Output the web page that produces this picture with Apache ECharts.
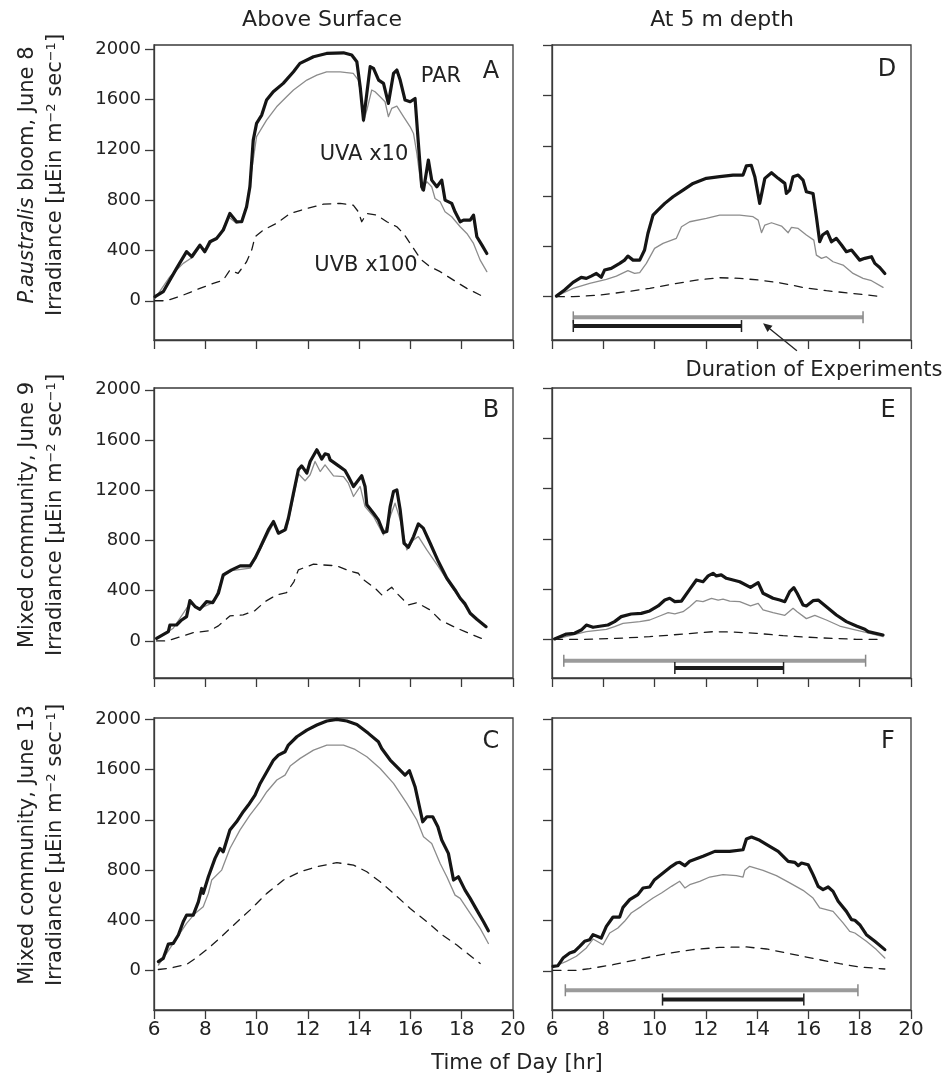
<!DOCTYPE html>
<html><head><meta charset="utf-8">
<script src="https://cdn.jsdelivr.net/npm/echarts@6/dist/echarts.min.js"></script>
<style>html,body{margin:0;padding:0;background:#fff}#c{width:951px;height:1079px}</style>
</head><body><div id="c"></div>
<script>
// ---------------- DATA ----------------
const hourTicks = [6, 8, 10, 12, 14, 16, 18, 20];
const irrTicks = [0, 400, 800, 1200, 1600, 2000];
const columnTitles = ['Above Surface', 'At 5 m depth'];
const rowTitles = ['{it|P.australis} bloom, June 8', 'Mixed community, June 9', 'Mixed community, June 13'];
const yTitle = 'Irradiance [µEin m{sup|−2} sec{sup|−1}]';
const xTitle = 'Time of Day [hr]';
const panelLetters = ['A', 'D', 'B', 'E', 'C', 'F'];
const seriesNames = ['PAR', 'UVA x10', 'UVB x100'];
const durationLabel = 'Duration of Experiments';

// Panel A: above surface, June 8
const parA = [[6.04,32],[6.36,72],[6.88,257],[7.27,390],[7.47,350],[7.79,442],[7.98,390],[8.18,469],[8.44,495],[8.70,562],[8.96,694],[9.22,628],[9.42,628],[9.61,747],[9.74,906],[9.87,1277],[10.0,1410],[10.2,1476],[10.39,1595],[10.65,1661],[11.04,1728],[11.44,1820],[11.69,1887],[12.22,1940],[12.73,1966],[13.39,1971],[13.71,1953],[13.91,1900],[14.04,1701],[14.17,1436],[14.24,1449],[14.43,1861],[14.56,1847],[14.76,1754],[14.95,1728],[15.14,1569],[15.34,1807],[15.47,1834],[15.6,1754],[15.79,1595],[15.99,1582],[16.18,1608],[16.31,1251],[16.44,906],[16.51,880],[16.7,1118],[16.83,959],[17.03,906],[17.22,959],[17.35,800],[17.61,774],[17.74,707],[17.94,628],[18.07,641],[18.33,641],[18.46,681],[18.59,509],[18.79,442],[18.98,376]];
const uvaA = [[6.04,19],[6.62,191],[7.14,297],[7.53,350],[7.79,429],[8.05,403],[8.25,469],[8.57,522],[8.9,668],[9.22,615],[9.42,628],[9.61,747],[9.81,1039],[10.0,1304],[10.39,1436],[10.78,1542],[11.17,1622],[11.44,1675],[11.96,1754],[12.35,1794],[12.73,1820],[13.26,1820],[13.77,1807],[13.97,1754],[14.1,1595],[14.17,1423],[14.3,1516],[14.49,1675],[14.62,1661],[14.82,1622],[15.01,1582],[15.14,1463],[15.27,1529],[15.47,1547],[15.73,1463],[15.99,1383],[16.12,1330],[16.25,1171],[16.44,880],[16.64,946],[16.83,906],[16.96,813],[17.16,787],[17.35,707],[17.61,668],[17.94,588],[18.2,535],[18.46,456],[18.72,323],[18.98,231]];
const uvbA = [[6.04,0],[6.49,0],[7.14,45],[7.79,98],[8.31,138],[8.7,164],[8.96,244],[9.28,217],[9.61,310],[9.81,403],[9.94,509],[10.26,562],[10.78,615],[11.31,694],[11.96,734],[12.61,768],[13.26,774],[13.77,760],[13.97,707],[14.1,628],[14.3,694],[14.69,681],[15.08,628],[15.47,588],[15.73,535],[15.99,456],[16.25,376],[16.44,323],[16.77,270],[17.16,231],[17.68,164],[18.2,98],[18.85,32]];

// Panel D: 5 m depth, June 8
const parD = [[6.17,5],[6.49,53],[6.82,114],[7.14,154],[7.34,146],[7.53,164],[7.73,185],[7.92,154],[8.05,212],[8.31,225],[8.64,265],[8.83,291],[8.96,323],[9.16,291],[9.42,291],[9.61,371],[9.74,503],[9.94,649],[10.13,689],[10.4,742],[10.72,795],[11.11,848],[11.5,901],[12.02,941],[12.54,954],[13.06,967],[13.45,967],[13.58,1040],[13.77,1045],[13.91,954],[14.1,742],[14.3,941],[14.56,986],[14.82,941],[15.08,901],[15.14,821],[15.27,848],[15.4,954],[15.6,967],[15.79,927],[15.92,835],[16.18,821],[16.31,636],[16.44,437],[16.55,490],[16.73,517],[16.9,437],[17.09,464],[17.29,411],[17.48,358],[17.68,371],[18.0,291],[18.2,305],[18.46,318],[18.59,265],[18.78,233],[18.98,185]];
const uvaD = [[6.17,5],[6.82,66],[7.47,106],[8.12,138],[8.51,164],[8.96,207],[9.22,185],[9.42,191],[9.68,265],[10.0,384],[10.33,424],[10.85,464],[11.05,556],[11.37,596],[12.02,623],[12.54,649],[13.32,649],[13.84,636],[14.04,609],[14.17,509],[14.3,570],[14.56,588],[14.95,562],[15.21,509],[15.34,551],[15.6,543],[15.92,490],[16.21,450],[16.31,331],[16.51,305],[16.7,318],[16.96,278],[17.35,252],[17.74,185],[18.13,146],[18.46,127],[18.91,74]];
const uvbD = [[6.17,0],[6.82,0],[7.86,13],[8.9,40],[9.81,66],[10.72,101],[11.63,132],[12.54,151],[13.32,146],[14.1,132],[14.88,111],[15.79,74],[16.7,48],[17.74,26],[18.91,0]];

// Panel B: above surface, June 9
const parB = [[6.1,21],[6.56,74],[6.62,127],[6.88,127],[7.08,167],[7.27,194],[7.4,321],[7.6,274],[7.79,252],[8.05,313],[8.29,305],[8.51,380],[8.7,526],[9.03,566],[9.36,598],[9.75,598],[9.94,659],[10.13,738],[10.46,884],[10.66,951],[10.85,858],[11.11,884],[11.24,977],[11.44,1177],[11.63,1363],[11.76,1394],[11.96,1336],[12.09,1429],[12.35,1522],[12.54,1448],[12.67,1490],[12.8,1482],[12.87,1442],[13.2,1394],[13.45,1357],[13.58,1309],[13.78,1230],[14.1,1315],[14.23,1230],[14.3,1084],[14.56,1017],[14.75,964],[14.95,863],[15.08,871],[15.21,1070],[15.34,1190],[15.47,1203],[15.6,1044],[15.75,778],[15.92,746],[16.12,831],[16.31,932],[16.5,898],[16.77,778],[17.09,632],[17.42,499],[17.74,406],[17.94,340],[18.13,295],[18.33,220],[18.59,173],[18.95,114]];
const uvaB = [[6.1,13],[6.75,101],[7.4,300],[7.79,260],[8.31,305],[8.7,513],[9.03,560],[9.75,579],[10.13,725],[10.66,938],[10.85,853],[11.17,884],[11.63,1331],[11.89,1275],[12.09,1323],[12.28,1429],[12.48,1349],[12.67,1402],[13.0,1315],[13.39,1309],[13.58,1256],[13.78,1150],[14.04,1230],[14.23,1070],[14.56,991],[14.95,845],[15.21,991],[15.4,1097],[15.6,964],[15.86,725],[16.12,805],[16.31,831],[16.64,725],[17.09,592],[17.55,446],[17.94,332],[18.33,220],[18.95,109]];
const uvbB = [[6.1,0],[6.49,0],[7.14,40],[7.53,66],[8.18,82],[8.51,120],[8.96,199],[9.48,207],[9.94,242],[10.33,313],[10.78,367],[11.17,385],[11.46,473],[11.63,566],[12.22,611],[12.54,606],[13.13,598],[13.58,560],[13.97,539],[14.1,499],[14.62,420],[14.88,367],[15.27,428],[15.47,380],[15.92,287],[16.25,305],[16.77,247],[17.16,167],[17.68,114],[18.13,74],[18.85,13]];

// Panel E: 5 m depth, June 9
const parE = [[6.1,3],[6.56,42],[6.88,48],[7.14,74],[7.34,114],[7.6,96],[7.92,106],[8.18,114],[8.44,141],[8.7,181],[9.09,202],[9.48,207],[9.81,226],[10.14,266],[10.4,313],[10.59,327],[10.79,300],[11.05,305],[11.37,398],[11.63,473],[11.89,459],[12.09,505],[12.28,526],[12.41,505],[12.6,513],[12.8,486],[13.32,459],[13.74,414],[14.04,452],[14.23,367],[14.62,327],[14.88,313],[15.08,300],[15.27,380],[15.43,412],[15.56,367],[15.79,274],[15.92,266],[16.18,308],[16.38,313],[16.7,260],[17.09,194],[17.48,141],[17.87,106],[18.2,80],[18.33,61],[18.91,35]];
const uvaE = [[6.1,0],[6.82,35],[7.34,61],[8.12,80],[8.44,101],[8.77,127],[9.42,141],[9.81,154],[10.2,186],[10.53,212],[10.79,202],[11.11,220],[11.37,260],[11.63,308],[11.89,300],[12.22,327],[12.48,313],[12.67,321],[12.93,305],[13.32,300],[13.74,266],[14.04,287],[14.23,234],[14.62,212],[15.08,191],[15.4,247],[15.56,220],[15.92,165],[16.25,191],[16.7,154],[17.22,106],[17.74,80],[18.2,58],[18.91,21]];
const uvbE = [[6.1,0],[7.21,0],[8.51,8],[9.81,21],[11.11,42],[12.28,61],[13.06,58],[13.97,48],[15.01,29],[16.31,13],[17.87,0],[18.91,0]];

// Panel C: above surface, June 13
const parC = [[6.17,72],[6.36,98],[6.56,212],[6.75,217],[6.95,284],[7.14,390],[7.27,442],[7.53,442],[7.73,548],[7.86,654],[7.92,615],[8.12,747],[8.38,893],[8.57,972],[8.7,946],[8.96,1118],[9.22,1184],[9.48,1264],[9.68,1317],[9.94,1396],[10.14,1489],[10.4,1582],[10.66,1675],[10.85,1714],[11.11,1741],[11.24,1794],[11.57,1860],[11.96,1913],[12.35,1953],[12.74,1985],[13.13,1998],[13.52,1985],[13.91,1958],[14.36,1887],[14.75,1820],[14.88,1767],[15.21,1675],[15.53,1608],[15.79,1555],[15.96,1590],[16.18,1463],[16.48,1184],[16.64,1224],[16.87,1224],[17.07,1145],[17.22,1039],[17.48,933],[17.68,721],[17.87,747],[18.13,641],[18.33,575],[18.59,482],[18.85,390],[19.04,318]];
const uvaC = [[6.17,45],[6.49,138],[6.88,257],[7.27,376],[7.6,456],[7.92,509],[8.12,615],[8.25,721],[8.64,800],[8.96,972],[9.35,1118],[9.74,1237],[10.14,1343],[10.4,1423],[10.79,1516],[11.11,1555],[11.31,1627],[11.7,1688],[12.22,1754],[12.74,1794],[13.39,1794],[13.84,1759],[14.3,1701],[14.82,1608],[15.34,1489],[15.86,1330],[16.25,1198],[16.51,1065],[16.83,1012],[17.16,853],[17.42,747],[17.74,601],[17.94,575],[18.33,456],[18.72,337],[19.04,217]];
const uvbC = [[6.17,10],[6.62,20],[7.27,50],[7.66,105],[8.12,178],[8.57,260],[9.09,360],[9.74,482],[10.4,615],[11.05,721],[11.7,787],[12.35,827],[13.13,859],[13.78,840],[14.3,787],[14.82,707],[15.34,615],[15.99,495],[16.64,390],[17.16,297],[17.81,204],[18.72,58]];

// Panel F: 5 m depth, June 13
const parF = [[6.04,37],[6.23,42],[6.43,103],[6.69,143],[6.88,156],[7.08,196],[7.27,236],[7.47,249],[7.6,289],[7.92,262],[8.12,355],[8.38,429],[8.64,429],[8.77,506],[9.03,567],[9.35,607],[9.55,660],[9.81,668],[10.0,726],[10.33,779],[10.66,832],[10.85,858],[10.98,864],[11.18,837],[11.37,872],[11.89,912],[12.35,951],[12.93,951],[13.45,964],[13.58,1049],[13.78,1065],[14.1,1039],[14.49,991],[14.82,951],[15.21,872],[15.47,864],[15.6,837],[15.73,858],[15.99,845],[16.18,766],[16.38,673],[16.57,647],[16.77,668],[16.96,633],[17.16,554],[17.48,474],[17.68,408],[17.81,403],[18.0,368],[18.26,289],[18.59,236],[18.98,170]];
const uvaF = [[6.04,32],[6.56,77],[6.95,117],[7.34,183],[7.6,254],[7.99,209],[8.25,302],[8.57,342],[8.83,395],[9.09,461],[9.48,514],[9.94,580],[10.27,620],[10.66,673],[10.98,713],[11.18,660],[11.37,686],[11.76,713],[12.15,747],[12.67,766],[13.19,758],[13.45,747],[13.52,800],[13.71,832],[14.23,800],[14.75,758],[15.27,700],[15.79,641],[16.18,580],[16.44,501],[16.96,474],[17.35,382],[17.61,315],[17.81,302],[18.26,236],[18.65,170],[18.98,103]];
const uvbF = [[6.04,5],[6.95,5],[7.47,19],[8.38,50],[9.42,95],[10.46,138],[11.5,170],[12.54,188],[13.58,191],[14.36,175],[15.27,138],[16.31,95],[17.22,58],[18.0,32],[18.98,16]];

// Duration of experiments bars: [start hr, end hr, level, kind(0 grey,1 black)]
const durD = [[6.83, 18.13, -164, 0], [6.83, 13.39, -233, 1]];
const durE = [[6.46, 18.23, -170, 0], [10.79, 15.03, -229, 1]];
const durF = [[6.52, 17.93, -153, 0], [10.31, 15.82, -227, 1]];

// ---------------- LAYOUT ----------------
const FONT = 'DejaVu Sans';
const INK = '#222';
const AX = '#3a3a3a';
const grids = [
  {left: 154, top: 45,  width: 359, height: 295, ymin: -312, ymax: 2033}, // A
  {left: 552, top: 45,  width: 359, height: 295, ymin: -344, ymax: 2001}, // D
  {left: 154, top: 388, width: 359, height: 290, ymin: -295, ymax: 2014}, // B
  {left: 552, top: 388, width: 359, height: 290, ymin: -308, ymax: 2002}, // E
  {left: 154, top: 718, width: 359, height: 292, ymin: -312, ymax: 2009}, // C
  {left: 552, top: 718, width: 359, height: 292, ymin: -310, ymax: 2011}  // F
];
const panelData = [
  [parA, uvaA, uvbA], [parD, uvaD, uvbD],
  [parB, uvaB, uvbB], [parE, uvaE, uvbE],
  [parC, uvaC, uvbC], [parF, uvaF, uvbF]
];
const durations = [null, durD, null, durE, null, durF];

const chart = echarts.init(document.getElementById('c'), null, {renderer: 'canvas'});

const option = {
  animation: false,
  backgroundColor: '#fff',
  textStyle: {fontFamily: FONT},
  grid: grids.map(g => ({left: g.left, top: g.top, width: g.width, height: g.height,
    show: true, borderColor: AX, borderWidth: 1.3, backgroundColor: 'transparent', containLabel: false})),
  xAxis: grids.map((g, i) => ({
    gridIndex: i, type: 'value', min: hourTicks[0], max: hourTicks[hourTicks.length - 1], interval: 2,
    axisLine: {show: true, onZero: false, lineStyle: {color: AX, width: 1.3}},
    axisTick: {show: true, inside: false, length: 9, lineStyle: {color: AX, width: 1.3}},
    axisLabel: {show: i >= 4, fontSize: 20, color: INK, margin: 10, fontFamily: FONT, formatter: v => String(v)},
    splitLine: {show: false}
  })),
  yAxis: grids.map((g, i) => ({
    gridIndex: i, type: 'value', min: g.ymin, max: g.ymax,
    axisLine: {show: true, onZero: false, lineStyle: {color: AX, width: 1.3}},
    axisTick: {show: true, inside: false, length: 9, customValues: irrTicks, lineStyle: {color: AX, width: 1.3}},
    axisLabel: {show: i % 2 === 0, customValues: irrTicks, fontSize: 18, color: INK, margin: 13, fontFamily: FONT, formatter: v => String(v)},
    splitLine: {show: false}
  })),
  series: []
};

const styles = [
  {color: '#151515', width: 3.2, type: 'solid'},
  {color: '#8c8c8c', width: 1.3, type: 'solid'},
  {color: '#1a1a1a', width: 1.3, type: [8, 7]}
];

panelData.forEach((sets, i) => {
  sets.forEach((d, k) => {
    option.series.push({
      name: seriesNames[k] + ' ' + panelLetters[i], type: 'line', xAxisIndex: i, yAxisIndex: i,
      data: d, showSymbol: false, symbol: 'none', smooth: false, z: 3 - k + 2,
      lineStyle: {color: styles[k].color, width: styles[k].width, type: styles[k].type, cap: 'round', join: 'round'}
    });
  });
});

function durationItem(params, api) {
  const s = api.coord([api.value(0), api.value(2)]);
  const e = api.coord([api.value(1), api.value(2)]);
  const black = api.value(3) === 1;
  const col = black ? '#1c1c1c' : '#9b9b9b';
  const cap = black ? '#222' : '#888';
  return {type: 'group', children: [
    {type: 'line', shape: {x1: s[0], y1: s[1], x2: e[0], y2: e[1]}, style: {stroke: col, lineWidth: 4}},
    {type: 'line', shape: {x1: s[0], y1: s[1] - 6, x2: s[0], y2: s[1] + 6}, style: {stroke: cap, lineWidth: 1.5}},
    {type: 'line', shape: {x1: e[0], y1: e[1] - 6, x2: e[0], y2: e[1] + 6}, style: {stroke: cap, lineWidth: 1.5}}
  ]};
}
durations.forEach((d, i) => {
  if (!d) return;
  option.series.push({type: 'custom', xAxisIndex: i, yAxisIndex: i, data: d, clip: false,
    encode: {x: [0, 1], y: 2}, renderItem: durationItem, z: 6});
});

chart.setOption(option);

// -------- annotations (text) --------
const g = [];
const txt = (text, x, y, size, extra) => Object.assign({type: 'text', x: x, y: y,
  style: Object.assign({text: text, fill: INK, font: size + 'px "' + FONT + '"', textAlign: 'center', textVerticalAlign: 'middle'}, extra || {})}, {});
g.push(txt(columnTitles[0], 322, 20, 22));
g.push(txt(columnTitles[1], 722, 20, 22));
const letterPos = [[491, 72], [887, 70], [491, 411], [888, 411], [491, 742], [888, 742]];
panelLetters.forEach((L, i) => g.push(txt(L, letterPos[i][0], letterPos[i][1], 24)));
g.push(txt(seriesNames[0], 441, 77, 21));
g.push(txt(seriesNames[1], 364, 155, 21));
g.push(txt(seriesNames[2], 366, 266, 21));
g.push(txt(durationLabel, 814, 371, 21));
g.push(txt(xTitle, 517, 1064, 21));
const rowCenters = [175, 515, 845];
rowCenters.forEach((cy, r) => {
  g.push({type: 'text', x: 28, y: cy, rotation: Math.PI / 2,
    style: {text: rowTitles[r], fill: INK, font: '21px "' + FONT + '"', textAlign: 'center', textVerticalAlign: 'middle',
      rich: {it: {fontStyle: 'italic', fontSize: 21, fontFamily: FONT}}}});
  g.push({type: 'text', x: 56, y: cy, rotation: Math.PI / 2,
    style: {text: yTitle, fill: INK, font: '21px "' + FONT + '"', textAlign: 'center', textVerticalAlign: 'middle',
      rich: {sup: {fontSize: 13, fontFamily: FONT, verticalAlign: 'top', lineHeight: 21}}}});
});
// arrow pointing to the duration bars (panel D)
const tail = chart.convertToPixel({gridIndex: 1}, [15.55, -430]);
const tip = chart.convertToPixel({gridIndex: 1}, [14.23, -211]);
const ang = Math.atan2(tip[1] - tail[1], tip[0] - tail[0]);
const hl = 9, hw = 4;
const bx = tip[0] - hl * Math.cos(ang), by = tip[1] - hl * Math.sin(ang);
g.push({type: 'line', shape: {x1: tail[0], y1: tail[1], x2: bx, y2: by}, style: {stroke: '#222', lineWidth: 1.3}});
g.push({type: 'polygon', shape: {points: [[tip[0], tip[1]], [bx + hw * Math.sin(ang), by - hw * Math.cos(ang)], [bx - hw * Math.sin(ang), by + hw * Math.cos(ang)]]}, style: {fill: '#222'}});
chart.setOption({graphic: g});
</script>
</body></html>
